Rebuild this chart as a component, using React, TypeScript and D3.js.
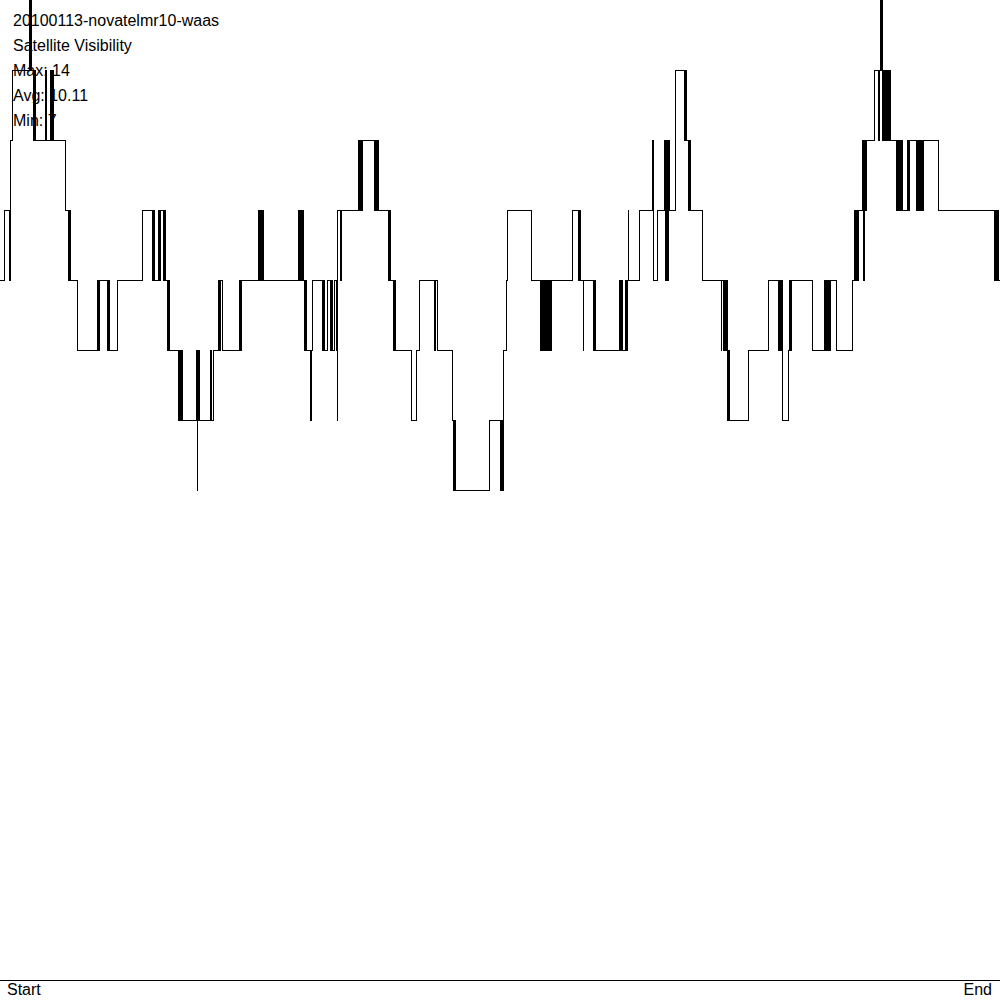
import React, { useEffect, useRef } from 'react';
import * as d3 from 'd3';

// header lines drawn top-left
const titleLines = ['20100113-novatelmr10-waas', 'Satellite Visibility'];
const statLabels = ['Max', 'Avg', 'Min'];
const statValues = ['14', '10.11', '7'];
const axisLabels = ['Start', 'End'];

// [epoch, number of visible satellites] at each change
const steps: [number, number][] = [
  [0, 10], [4, 11], [9, 10], [10, 11], [10.5, 12], [12.5, 13],
  [29, 14], [30, 13], [30.5, 14], [31.5, 13],
  [33, 12], [34, 13], [35.5, 12],
  [45, 13], [46.5, 12], [50, 13], [51, 12], [52, 13], [53, 12],
  [65, 11], [68, 10], [69, 11], [70, 10], [77, 9],
  [97, 10], [98, 9], [99, 10], [107, 9], [108, 10], [109, 9], [117, 10],
  [142.5, 11], [152, 10], [153, 11], [154, 10], [158, 11], [159, 10], [160, 11],
  [163, 10], [164, 11], [165, 10], [167, 9], [168, 10], [169, 9],
  [178, 8], [179, 9], [180, 8], [181, 9], [182, 8],
  [196, 9], [197, 7], [197.5, 8], [198, 9], [199, 8],
  [210, 9], [211, 8], [213, 9],
  [218.5, 10], [219.5, 9], [220.5, 10], [222, 9],
  [239, 10], [240, 9], [241, 10],
  [258, 11], [259, 10], [260, 11], [261, 10], [262, 11], [263, 10],
  [298, 11], [299, 10], [300, 11], [301, 10], [302, 11], [303, 10],
  [304, 9], [305, 10], [306, 9], [310, 8], [311, 9], [312, 10],
  [322, 9], [323, 10], [324, 9], [327, 10], [330, 9], [331, 10], [332, 9],
  [334, 10], [336, 9], [337, 8], [337.5, 11], [340, 10], [341.5, 11],
  [358, 12], [359, 11], [360, 12], [361, 11], [362, 12],
  [374, 11], [375, 12], [376, 11], [377, 12], [378, 11],
  [388, 10], [389, 11], [390, 10], [393, 9], [394, 10], [395, 9],
  [411, 8], [416, 9], [419, 10], [434.5, 9], [435.5, 10], [437, 9],
  [452, 8], [453, 7], [454, 8], [455, 7], [489, 8],
  [500, 7], [501, 8], [502, 7], [503, 9], [506, 10], [507, 11],
  [531, 10], [540, 9], [541, 10], [542, 9], [543, 10], [544, 9], [545, 10],
  [546, 9], [547, 10], [548, 9], [549, 10], [550, 9], [551, 10],
  [572, 11], [578, 10], [579, 11], [580, 10], [583, 9], [583.4, 10],
  [593, 9], [594, 10], [595, 9],
  [619, 10], [620, 9], [621, 10], [622, 9], [625, 10], [626, 9], [627, 10],
  [628, 11], [628.4, 10],
  [639, 11], [652, 12], [653, 10], [657, 11],
  [664, 12], [665, 10], [666, 12], [667, 10], [668, 12], [669, 11],
  [675, 13], [684, 12], [685, 13], [686, 12], [688, 11], [689, 12], [690, 11],
  [702, 10], [721, 9], [721.7, 10], [723, 9], [724, 10], [725, 9], [726, 10],
  [727, 9], [727.5, 8], [728, 9], [729, 8],
  [748, 9], [768, 10], [778, 9], [779, 10], [780, 9], [781, 10], [782, 8],
  [788, 9], [789, 10], [790, 9], [791, 10],
  [812, 9], [824, 10], [825, 9], [826, 10], [827, 9], [828, 10], [829.5, 9],
  [830, 10], [836, 9], [852, 10],
  [854, 11], [855, 10], [856, 11], [857, 10], [858, 11],
  [862, 12], [863, 10], [864, 12], [865, 11], [866, 12],
  [874, 13], [878, 12], [879, 13], [880, 14], [881, 13], [881.5, 14], [882, 12],
  [883, 13], [884, 12], [885, 13], [886, 12], [887, 13], [888, 12], [889, 13], [890, 12],
  [896, 11], [897, 12], [898, 11], [899, 12], [900, 11], [901, 12], [902, 11],
  [907, 12], [908, 11], [909, 12],
  [916, 11], [917, 12], [918, 11], [919, 12], [920, 11], [921, 12], [922, 11], [923, 12],
  [938, 11], [994, 10], [995, 11], [996, 10], [997, 11], [998, 10], [1000, 10],
];

const epochRange: [number, number] = [0, 1000];
const satRange: [number, number] = [0, 14];

export default function App() {
  const ref = useRef<SVGSVGElement>(null);

  useEffect(() => {
    const width = 1000;
    const height = 1000;
    const base = 980;

    const x = d3.scaleLinear().domain(epochRange).range([0, width]);
    const y = d3.scaleLinear().domain(satRange).range([base, 0]);

    const svg = d3
      .select(ref.current)
      .attr('width', width)
      .attr('height', height)
      .attr('font-family', '"Liberation Sans", Arial, sans-serif')
      .attr('font-size', 16);
    svg.selectAll('*').remove();

    const lines = [
      ...titleLines,
      ...statLabels.map((s, i) => `${s}: ${statValues[i]}`),
    ];
    svg
      .append('g')
      .selectAll('text')
      .data(lines)
      .join('text')
      .attr('x', 13)
      .attr('y', (d, i) => 26 + i * 25)
      .attr('fill', 'black')
      .text(d => d);

    // baseline
    svg
      .append('line')
      .attr('x1', 0)
      .attr('x2', width)
      .attr('y1', base + 0.5)
      .attr('y2', base + 0.5)
      .attr('stroke', 'black');

    svg
      .append('text')
      .attr('x', 7)
      .attr('y', 995)
      .text(axisLabels[0]);
    svg
      .append('text')
      .attr('x', 992)
      .attr('y', 995)
      .attr('text-anchor', 'end')
      .text(axisLabels[1]);

    const line = d3
      .line<[number, number]>()
      .x(d => x(d[0]))
      .y(d => y(d[1]))
      .curve(d3.curveStepAfter);

    svg
      .append('path')
      .datum(steps)
      .attr('d', line)
      .attr('fill', 'none')
      .attr('stroke', 'black')
      .attr('stroke-width', 1)
      .attr('shape-rendering', 'crispEdges');
  }, []);

  return (
    <svg ref={ref} style={{ position: 'absolute', left: 0, top: 0, display: 'block' }} />
  );
}
